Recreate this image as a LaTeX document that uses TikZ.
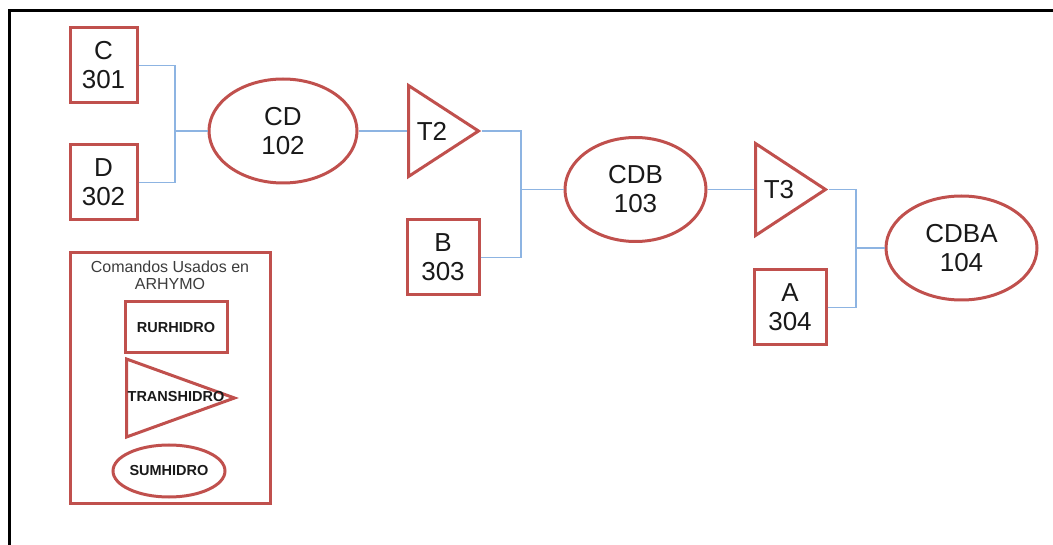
\documentclass[tikz,border=0pt]{standalone}
\usepackage{fontspec}
\setmainfont{Liberation Sans}
\usetikzlibrary{shapes.geometric,positioning}
\definecolor{rojo}{RGB}{192,80,77}
\definecolor{azul}{RGB}{141,180,226}
\definecolor{tinta}{RGB}{25,25,25}
\definecolor{gris}{RGB}{60,60,60}

\begin{document}
\begin{tikzpicture}[x=1pt, y=-1pt,
  every node/.style={font=\fontsize{26}{29}\selectfont, text=tinta, align=center},
  bloque/.style={draw=rojo, line width=3pt, minimum width=67pt, minimum height=75pt, inner sep=0pt},
  suma/.style={draw=rojo, line width=3pt, ellipse, minimum width=148pt, minimum height=104pt, inner sep=0pt},
  transito/.style={draw=rojo, line width=3pt, isosceles triangle, isosceles triangle stretches,
    minimum width=91pt, minimum height=70pt, inner sep=0pt, anchor=west},
  liga/.style={draw=azul, line width=1.4pt},
  leyenda/.style={font=\fontsize{14.5}{16}\selectfont\bfseries}
]
  \useasboundingbox (0,0) rectangle (1053,545);
  \draw[line width=3pt] (1053,11) -- (9,11) -- (9,545);

  % subcuencas y sumas
  \node[bloque] (c) at (103.5,65.5) {C\\301};
  \node[bloque] (d) at (103.5,182.5) {D\\302};
  \node[suma] (cd) at (283,131) {CD\\102};
  \node[transito] (t2) at (407,131) {};
  \node (t2lbl) at (432,131) {T2};
  \node[bloque, minimum width=72pt] (b) at (443,257.5) {B\\303};
  \node[suma, minimum width=141pt] (cdb) at (635.5,189.5) {CDB\\103};
  \node[transito, minimum width=92pt, minimum height=70pt] (t3) at (754,189.5) {};
  \node (t3lbl) at (779,189.5) {T3};
  \node[bloque, minimum width=72pt] (a) at (790,307.5) {A\\304};
  \node[suma, minimum width=151pt] (cdba) at (961.5,248) {CDBA\\104};

  \coordinate (j1) at (175,131);
  \coordinate (j2) at (521,189.5);
  \coordinate (j3) at (856,248);
  \draw[liga] (c.east) -| (j1) -- (cd.west);
  \draw[liga] (d.east) -| (j1);
  \draw[liga] (cd.east) -- (t2.west);
  \draw[liga] (t2.apex) -| (j2) -- (cdb.west);
  \draw[liga] (b.east) -| (j2);
  \draw[liga] (cdb.east) -- (t3.west);
  \draw[liga] (t3.apex) -| (j3) -- (cdba.west);
  \draw[liga] (a.east) -| (j3);

  % leyenda
  \node[draw=rojo, line width=3pt, minimum width=200pt, minimum height=250pt] (ley) at (170,378) {};
  \node[font=\fontsize{16}{17}\selectfont, text=gris] (titulo) at (170,275) {Comandos Usados en\\ARHYMO};
  \node[bloque, leyenda, minimum width=102pt, minimum height=51pt] (rur) at (176,327.5) {RURHIDRO};
  \node[transito, minimum width=78pt, minimum height=108pt] (tra) at (125,398) {};
  \node[leyenda] (tralbl) at (176,397) {TRANSHIDRO};
  \node[suma, leyenda, minimum width=112pt, minimum height=52pt] (sum) at (169,471) {SUMHIDRO};
\end{tikzpicture}
\end{document}
